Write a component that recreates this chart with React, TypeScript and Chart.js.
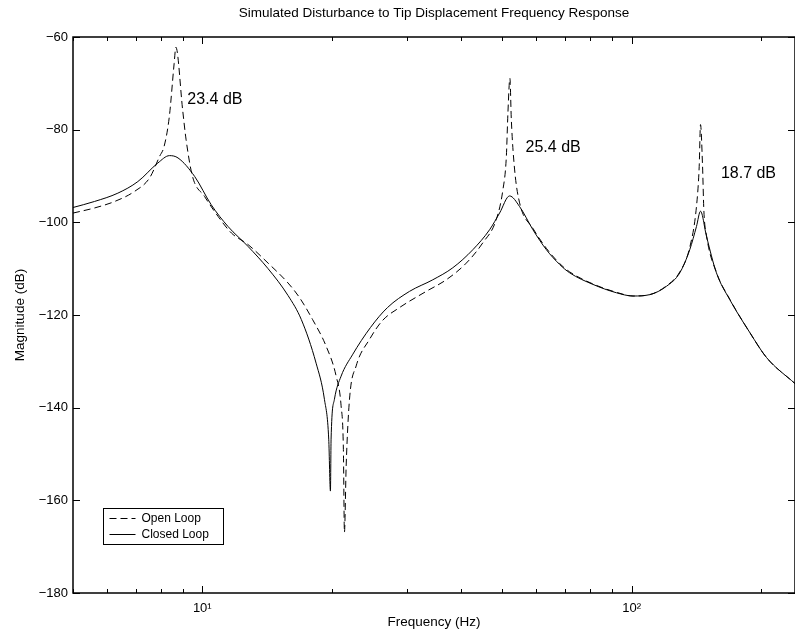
import React, { useEffect, useRef } from "react";
import { Chart, registerables } from "chart.js";

Chart.register(...registerables);

const TITLE = "Simulated Disturbance to Tip Displacement Frequency Response";
const X_LABEL = "Frequency (Hz)";
const Y_LABEL = "Magnitude (dB)";
const SERIES_NAMES = ["Open Loop", "Closed Loop"];

const openFreq = [5.0, 5.61, 6.25, 6.96, 7.54, 7.95, 8.15, 8.38, 8.6, 8.68, 9.0, 9.17, 9.49, 10.12, 10.88, 11.69, 12.78, 14.23, 15.84, 16.83, 18.07, 19.42, 20.5, 21.05, 21.31, 21.43, 21.63, 22.02, 22.82, 24.5, 26.28, 28.79, 33.23, 36.99, 41.19, 45.02, 48.37, 50.12, 51.05, 51.49, 52.04, 52.44, 53.38, 54.82, 58.88, 63.27, 67.96, 71.71, 81.24, 92.12, 100.7, 110.2, 120.5, 129.4, 136.5, 141.5, 143.6, 144.6, 146.2, 147.2, 149.3, 157.5, 169.2, 188.4, 206.1, 240];
const openMag = [-98.0, -96.9, -95.5, -93.3, -90.4, -85.8, -83.6, -77.2, -65.7, -62.2, -75.7, -82.2, -90.1, -94.4, -98.7, -102.3, -104.8, -108.8, -113.1, -116.2, -121.0, -126.7, -133.2, -139.6, -149.0, -166.9, -152.6, -138.2, -131.0, -125.3, -121.2, -118.4, -114.9, -112.4, -108.8, -104.4, -99.4, -93.0, -85.9, -76.4, -68.9, -77.9, -88.7, -95.8, -101.3, -105.6, -108.9, -110.7, -113.3, -115.1, -115.9, -115.6, -113.7, -110.7, -105.4, -96.6, -87.9, -78.9, -87.9, -97.3, -102.8, -110.8, -116.6, -123.8, -129.2, -134.8];

const closedFreq = [5.0, 5.61, 6.36, 7.08, 7.88, 8.39, 8.78, 9.6, 10.49, 11.48, 12.78, 14.23, 15.84, 17.01, 18.41, 19.25, 19.7, 19.88, 19.95, 20.31, 21.05, 22.37, 24.64, 26.99, 30.38, 34.42, 38.32, 42.67, 46.67, 49.24, 51.95, 54.82, 58.88, 63.27, 67.96, 71.71, 81.24, 92.12, 100.7, 110.2, 120.5, 129.4, 136.5, 141.5, 144.6, 149.3, 157.5, 169.2, 188.4, 206.1, 240];
const closedMag = [-96.8, -95.5, -93.7, -91.2, -87.2, -85.6, -86.1, -90.1, -96.2, -100.9, -105.2, -110.0, -115.8, -121.0, -130.4, -138.2, -146.8, -158.0, -146.8, -138.2, -133.2, -128.6, -122.7, -118.4, -114.9, -112.4, -109.8, -105.9, -101.6, -98.0, -94.3, -96.6, -101.6, -105.9, -109.1, -110.9, -113.4, -115.2, -115.9, -115.6, -113.8, -110.9, -105.9, -100.9, -97.6, -103.0, -110.9, -116.7, -123.8, -129.2, -134.8];

const yTicks = [-180, -160, -140, -120, -100, -80, -60];
const xMinorTicks = [5, 6, 7, 8, 9, 20, 30, 40, 50, 60, 70, 80, 90, 200];
const xMajorTicks = [10, 100];
const xMajorLabels = ["10\u00b9", "10\u00b2"];

const annotationTexts = ["23.4 dB", "25.4 dB", "18.7 dB"];
const annotationFreq = [9.23, 56.6, 161.3];
const annotationMag = [-73.6, -83.9, -89.5];

const FONT = '"Liberation Sans", Arial, Helvetica, sans-serif';
const DASH = [7, 4];

const decorPlugin = {
  id: "decor",
  afterDraw(chart: any) {
    const ctx: CanvasRenderingContext2D = chart.ctx;
    const { left, right, top, bottom } = chart.chartArea;
    const xs = chart.scales.x;
    const ys = chart.scales.y;
    ctx.save();
    ctx.strokeStyle = "#000";
    ctx.lineWidth = 1.5;
    ctx.strokeRect(left, top, right - left, bottom - top);
    ctx.lineWidth = 1;
    ctx.beginPath();
    yTicks.forEach((v) => {
      const y = Math.round(ys.getPixelForValue(v)) + 0.5;
      ctx.moveTo(left, y);
      ctx.lineTo(left + 7, y);
      ctx.moveTo(right, y);
      ctx.lineTo(right - 7, y);
    });
    xMinorTicks.forEach((v) => {
      const x = Math.round(xs.getPixelForValue(v)) + 0.5;
      ctx.moveTo(x, bottom);
      ctx.lineTo(x, bottom - 4);
      ctx.moveTo(x, top);
      ctx.lineTo(x, top + 4);
    });
    xMajorTicks.forEach((v) => {
      const x = Math.round(xs.getPixelForValue(v)) + 0.5;
      ctx.moveTo(x, bottom);
      ctx.lineTo(x, bottom - 7);
      ctx.moveTo(x, top);
      ctx.lineTo(x, top + 7);
    });
    ctx.stroke();

    ctx.fillStyle = "#000";
    ctx.textAlign = "center";
    ctx.textBaseline = "middle";
    ctx.font = `13.5px ${FONT}`;
    const cx = (left + right) / 2;
    ctx.fillText(TITLE, cx, 13);
    ctx.fillText(X_LABEL, cx, 622);
    ctx.save();
    ctx.translate(20, (top + bottom) / 2);
    ctx.rotate(-Math.PI / 2);
    ctx.fillText(Y_LABEL, 0, 0);
    ctx.restore();

    ctx.textAlign = "left";
    ctx.font = `16px ${FONT}`;
    annotationTexts.forEach((t, i) => {
      ctx.fillText(t, xs.getPixelForValue(annotationFreq[i]), ys.getPixelForValue(annotationMag[i]));
    });

    const lx = 103.5, ly = 508.5, lw = 120, lh = 36;
    ctx.fillStyle = "#fff";
    ctx.fillRect(lx, ly, lw, lh);
    ctx.lineWidth = 1;
    ctx.strokeStyle = "#000";
    ctx.strokeRect(lx, ly, lw, lh);
    ctx.font = `12px ${FONT}`;
    ctx.fillStyle = "#000";
    const datasets = chart.data.datasets;
    datasets.forEach((ds: any, i: number) => {
      const ry = ly + 10 + i * 16;
      ctx.beginPath();
      ctx.setLineDash(ds.borderDash || []);
      ctx.moveTo(lx + 6, ry);
      ctx.lineTo(lx + 32, ry);
      ctx.stroke();
      ctx.setLineDash([]);
      ctx.fillText(ds.label, lx + 38, ry);
    });
    ctx.restore();
  },
};

export default function App() {
  const ref = useRef<HTMLCanvasElement | null>(null);
  useEffect(() => {
    if (!ref.current) return;
    const chart = new Chart(ref.current, {
      type: "line",
      data: {
        datasets: [
          {
            label: SERIES_NAMES[0],
            data: openFreq.map((f, i) => ({ x: f, y: openMag[i] })),
            borderColor: "#000",
            borderWidth: 1,
            borderDash: DASH,
            pointRadius: 0,
            cubicInterpolationMode: "monotone",
            fill: false,
          },
          {
            label: SERIES_NAMES[1],
            data: closedFreq.map((f, i) => ({ x: f, y: closedMag[i] })),
            borderColor: "#000",
            borderWidth: 1,
            pointRadius: 0,
            cubicInterpolationMode: "monotone",
            fill: false,
          },
        ],
      },
      options: {
        animation: false,
        responsive: false,
        devicePixelRatio: 1,
        layout: { padding: { top: 37, left: 0, right: 0, bottom: 0 } },
        plugins: {
          legend: { display: false },
          title: { display: false },
          tooltip: { enabled: false },
        },
        scales: {
          x: {
            type: "logarithmic",
            min: 5,
            max: 240,
            grid: { display: false, drawTicks: false },
            border: { display: false },
            afterBuildTicks: (s: any) => {
              s.ticks = [...xMinorTicks, ...xMajorTicks]
                .sort((a, b) => a - b)
                .map((v) => ({ value: v }));
            },
            afterFit: (s: any) => {
              s.height = 41;
            },
            ticks: {
              autoSkip: false,
              maxRotation: 0,
              minRotation: 0,
              padding: 8,
              color: "#000",
              font: { family: FONT, size: 13 },
              callback: (v: any) => {
                const i = xMajorTicks.indexOf(Number(v));
                return i >= 0 ? xMajorLabels[i] : "";
              },
            },
          },
          y: {
            type: "linear",
            min: -180,
            max: -60,
            grid: { display: false, drawTicks: false },
            border: { display: false },
            afterBuildTicks: (s: any) => {
              s.ticks = yTicks.map((v) => ({ value: v }));
            },
            afterFit: (s: any) => {
              s.width = 73;
            },
            ticks: {
              padding: 5,
              color: "#000",
              font: { family: FONT, size: 13 },
              callback: (v: any) => (Number(v) < 0 ? "\u2212" + Math.abs(Number(v)) : String(v)),
            },
          },
        },
      },
      plugins: [decorPlugin],
    } as any);
    return () => chart.destroy();
  }, []);
  return (
    <canvas
      ref={ref}
      width={795}
      height={634}
      style={{ position: "absolute", left: 0, top: 0, width: 795, height: 634 }}
    />
  );
}
